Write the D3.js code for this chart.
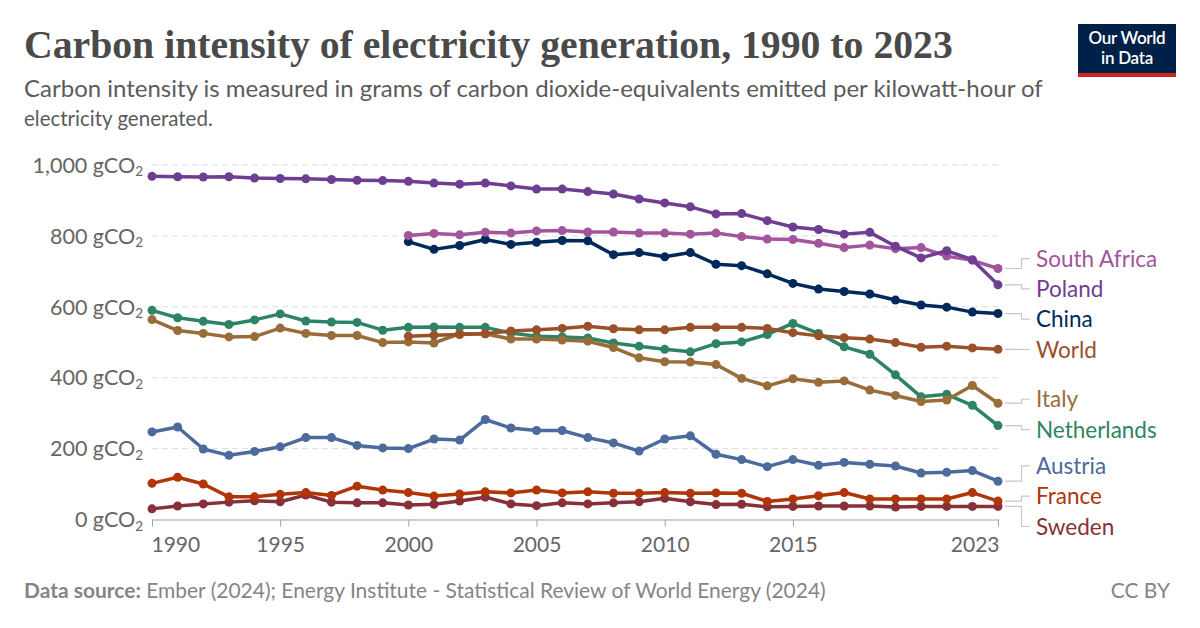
<!DOCTYPE html>
<html>
<head>
<meta charset="utf-8">
<script src="https://cdn.jsdelivr.net/npm/d3@7"></script>
<style>
  html, body { margin: 0; padding: 0; background: #fff; }
  svg { display: block; }
  text { font-family: Lato, "Noto Sans", sans-serif; }
</style>
</head>
<body>
<svg id="chart" width="1200" height="628"></svg>
<script>
// ---------- DATA ----------
const years = d3.range(1990, 2024);
const yearsFrom2000 = d3.range(2000, 2024);

const southAfrica = [801,807,803,810,808,814,815,811,811,808,808,805,808,798,791,790,779,767,774,764,767,743,731,708];
const poland = [968,967,966,967,963,962,961,959,957,956,954,949,946,949,941,932,932,925,918,904,893,882,862,863,843,825,818,805,810,771,738,758,733,662];
const china = [784,762,773,790,776,782,787,786,747,753,741,753,720,716,693,666,650,643,636,619,605,599,585,581];
const world = [517,520,522,524,532,535,539,545,538,535,535,542,542,542,539,527,518,513,509,499,486,489,484,480];
const italy = [564,533,525,515,516,540,525,519,519,499,501,498,524,524,509,509,506,503,485,456,445,444,437,398,377,397,387,391,365,350,333,337,378,328];
const netherlands = [590,569,559,550,563,580,560,557,556,534,542,543,542,542,526,517,515,512,498,489,480,473,496,501,522,553,525,487,466,408,346,353,322,265];
const austria = [247,261,199,181,192,205,231,231,209,202,200,227,224,282,258,251,251,231,216,193,227,236,184,169,149,169,153,161,156,151,131,133,138,108];
const france = [102,119,100,64,64,71,76,68,94,83,76,66,72,78,75,83,75,78,74,74,76,74,75,74,51,58,67,76,58,58,58,58,76,52];
const sweden = [30,38,44,49,53,50,69,49,47,47,41,43,52,63,44,39,47,44,47,50,60,50,42,43,36,37,38,38,38,35,37,37,37,37];

const seriesNames = ["South Africa","Poland","China","World","Italy","Netherlands","Austria","France","Sweden"];
const seriesColors = ["#a2559c","#6d3e91","#00295b","#9a5129","#996d39","#2c8465","#4c6a9c","#b13507","#883039"];
const seriesYears = [yearsFrom2000, years, yearsFrom2000, yearsFrom2000, years, years, years, years, years];
const seriesValues = [southAfrica, poland, china, world, italy, netherlands, austria, france, sweden];

const yTicks = [0, 200, 400, 600, 800, 1000];
const xTicks = [1990, 1995, 2000, 2005, 2010, 2015, 2023];

const titleText = "Carbon intensity of electricity generation, 1990 to 2023";
const subtitleLines = ["Carbon intensity is measured in grams of carbon dioxide-equivalents emitted per kilowatt-hour of", "electricity generated."];
const sourceLabel = "Data source:";
const sourceText = " Ember (2024); Energy Institute - Statistical Review of World Energy (2024)";
const licenseText = "CC BY";
const logoLines = ["Our World", "in Data"];

// ---------- LAYOUT ----------
const svg = d3.select("#chart");
const x = d3.scaleLinear().domain([1990, 2023]).range([152, 998]);
const y = d3.scaleLinear().domain([0, 1000]).range([519.5, 165]);

function fitWidth(sel, base, target) {
  const w = sel.node().getComputedTextLength();
  sel.attr("font-size", base * target / w);
}

// Title
const title = svg.append("text")
  .attr("x", 24).attr("y", 58)
  .style("font-family", "'Liberation Serif', 'DejaVu Serif', serif")
  .attr("font-weight", 700)
  .attr("font-size", 36)
  .attr("fill", "#4a4a4a")
  .text(titleText);
fitWidth(title, 36, 929);

// Subtitle
subtitleLines.forEach((line, i) => {
  const t = svg.append("text")
    .attr("x", 24).attr("y", 97 + i * 29)
    .attr("font-size", 20.5)
    .attr("fill", "#5b5b5b")
    .text(line);
  if (i === 0) fitWidth(t, 20.5, 1019);
});

// Logo
const logo = svg.append("g");
logo.append("rect").attr("x", 1078).attr("y", 24).attr("width", 98).attr("height", 50).attr("fill", "#002147");
logo.append("rect").attr("x", 1078).attr("y", 73).attr("width", 98).attr("height", 4).attr("fill", "#ce261e");
logoLines.forEach((s, i) => {
  logo.append("text").attr("x", 1127).attr("y", 44 + i * 20).attr("text-anchor", "middle")
    .attr("font-size", 17).attr("font-weight", 600).attr("fill", "#fff")
    .attr("letter-spacing", -0.3).text(s);
});

// Gridlines
const grid = svg.append("g");
grid.selectAll("line").data(yTicks.filter(d => d > 0)).join("line")
  .attr("x1", x(1990)).attr("x2", x(2023))
  .attr("y1", d => y(d)).attr("y2", d => y(d))
  .attr("stroke", "#dddddd").attr("stroke-width", 1)
  .attr("stroke-dasharray", "6,4");

// Y labels
const yl = svg.append("g");
yTicks.forEach(v => {
  const t = yl.append("text")
    .attr("x", 143).attr("y", y(v)).attr("dy", "0.36em")
    .attr("text-anchor", "end")
    .attr("font-size", 21.5).attr("fill", "#666");
  t.append("tspan").text(d3.format(",")(v) + " gCO");
  t.append("tspan").attr("font-size", 13.5).attr("dy", "0.25em").text("2");
});

// X axis
const xAxis = d3.axisBottom(x).tickValues(xTicks).tickFormat(d3.format("d")).tickSize(7).tickSizeOuter(0);
const xg = svg.append("g").attr("transform", `translate(0,${y(0)})`).call(xAxis);
xg.select(".domain").attr("stroke", "#a1a1a1");
xg.selectAll(".tick line").attr("stroke", "#a1a1a1");
xg.selectAll(".tick text")
  .attr("font-family", "Lato, sans-serif")
  .attr("font-size", 21).attr("fill", "#666").attr("dy", "1.05em")
  .attr("text-anchor", d => d === 1990 ? "start" : d === 2023 ? "end" : "middle")
  .attr("x", d => d === 1990 ? -1 : d === 2023 ? 1 : 0);

// Lines and dots
const lineGen = d3.line().x(d => x(d[0])).y(d => y(d[1]));
const plot = svg.append("g");
const order = [8,7,6,5,4,3,2,0,1];
order.forEach(i => {
  const pts = seriesYears[i].map((yr, k) => [yr, seriesValues[i][k]]);
  const g = plot.append("g");
  g.append("path").datum(pts).attr("d", lineGen)
    .attr("fill", "none").attr("stroke", seriesColors[i]).attr("stroke-width", 3.5)
    .attr("stroke-linejoin", "round").attr("stroke-linecap", "round");
  g.selectAll("circle").data(pts).join("circle")
    .attr("cx", d => x(d[0])).attr("cy", d => y(d[1])).attr("r", 4.5)
    .attr("fill", seriesColors[i]);
});

// Labels with collision resolution
const spacing = 30.3;
let items = seriesNames.map((n, i) => {
  const vals = seriesValues[i];
  return { name: n, color: seriesColors[i], target: y(vals[vals.length - 1]) };
}).sort((a, b) => a.target - b.target);
let clusters = items.map(it => ({ items: [it] }));
function place(c) {
  const mean = d3.mean(c.items, d => d.target);
  const n = c.items.length;
  c.top = mean - (n - 1) * spacing / 2;
  c.bottom = c.top + (n - 1) * spacing;
}
clusters.forEach(place);
let merged = true;
while (merged) {
  merged = false;
  for (let k = 0; k < clusters.length - 1; k++) {
    if (clusters[k].bottom + spacing > clusters[k + 1].top) {
      clusters[k].items = clusters[k].items.concat(clusters[k + 1].items);
      clusters.splice(k + 1, 1);
      place(clusters[k]);
      merged = true;
      break;
    }
  }
}
clusters.forEach(c => c.items.forEach((it, j) => it.ly = c.top + j * spacing));

const lab = svg.append("g");
items.forEach(it => {
  const x0 = x(2023) + 7, xm = 1021.5, x1 = 1030;
  lab.append("path")
    .attr("d", `M${x0},${it.target}H${xm}V${it.ly}H${x1}`)
    .attr("fill", "none").attr("stroke", "#c8c8c8").attr("stroke-width", 1.2);
  lab.append("text").attr("x", 1036).attr("y", it.ly).attr("dy", "0.36em")
    .attr("font-size", 22.5).attr("fill", it.color).text(it.name);
});

// Footer
const foot = svg.append("text").attr("x", 24).attr("y", 598).attr("font-size", 17.5).attr("fill", "#858585");
foot.append("tspan").attr("font-weight", 700).text(sourceLabel);
foot.append("tspan").text(sourceText);
fitWidth(foot, 17.5, 802);
svg.append("text").attr("x", 1170).attr("y", 598).attr("text-anchor", "end")
  .attr("font-size", foot.attr("font-size")).attr("fill", "#858585").text(licenseText);
</script>
</body>
</html>
